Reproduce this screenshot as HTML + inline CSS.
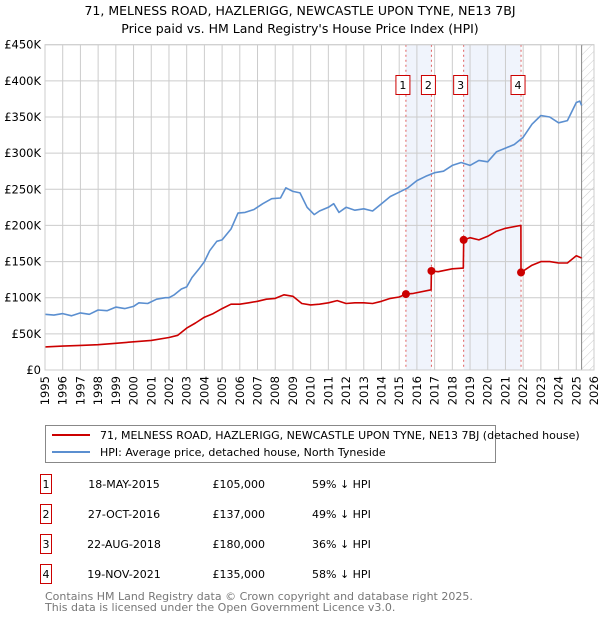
<!DOCTYPE html>
<html><head><meta charset="utf-8"><style>
body{margin:0;background:#fff;font-family:"Liberation Sans","DejaVu Sans",sans-serif;}
svg text{font-family:"DejaVu Sans","Liberation Sans",sans-serif;}
</style></head><body>
<svg id="c" width="600" height="620" xmlns="http://www.w3.org/2000/svg">
<defs><pattern id="hatch" width="6" height="6" patternUnits="userSpaceOnUse" patternTransform="rotate(45)"><line x1="0" y1="0" x2="0" y2="6" stroke="#ccc" stroke-width="1"/></pattern></defs>
<text x="300" y="15" text-anchor="middle" font-size="12.5">71, MELNESS ROAD, HAZLERIGG, NEWCASTLE UPON TYNE, NE13 7BJ</text>
<text x="300" y="33" text-anchor="middle" font-size="12.5">Price paid vs. HM Land Registry's House Price Index (HPI)</text>
<g id="plot"></g>
<g>
<rect x="45.5" y="425.5" width="450" height="37" fill="#fff" stroke="#888"/>
<line x1="52" y1="435" x2="90" y2="435" stroke="#cc0000" stroke-width="2"/>
<text x="100" y="439" font-size="11">71, MELNESS ROAD, HAZLERIGG, NEWCASTLE UPON TYNE, NE13 7BJ (detached house)</text>
<line x1="52" y1="452" x2="90" y2="452" stroke="#5b8fd0" stroke-width="2"/>
<text x="100" y="456" font-size="11">HPI: Average price, detached house, North Tyneside</text>
</g>
<g id="table" font-size="11"></g>
<text x="45" y="600" font-size="11" fill="#777">Contains HM Land Registry data © Crown copyright and database right 2025.</text>
<text x="45" y="611" font-size="11" fill="#777">This data is licensed under the Open Government Licence v3.0.</text>
</svg>
<script>
const yTicks=[0,50,100,150,200,250,300,350,400,450];
const yTickLabels=["£0","£50K","£100K","£150K","£200K","£250K","£300K","£350K","£400K","£450K"];
const hpiYears=[1995,1995.5,1996,1996.5,1997,1997.5,1998,1998.5,1999,1999.5,2000,2000.3,2000.8,2001.3,2001.8,2002,2002.3,2002.7,2003,2003.3,2003.7,2004,2004.3,2004.7,2005,2005.5,2005.9,2006.3,2006.8,2007.3,2007.8,2008.3,2008.6,2009,2009.4,2009.8,2010.2,2010.5,2011,2011.3,2011.6,2012,2012.5,2013,2013.5,2014,2014.5,2015,2015.5,2016,2016.5,2017,2017.5,2018,2018.5,2019,2019.5,2020,2020.5,2021,2021.5,2022,2022.5,2023,2023.5,2024,2024.5,2025,2025.2,2025.3];
const hpiValues=[77,76,78,75,79,77,83,82,87,85,88,93,92,98,100,100,104,112,115,128,140,150,165,178,180,195,217,218,222,230,237,238,252,247,245,225,215,220,225,230,218,225,221,223,220,230,240,246,252,262,268,273,275,283,287,283,290,288,302,307,312,322,340,352,350,342,345,370,372,366];
const ppYears=[1995,1996,1997,1998,1999,2000,2001,2002,2002.5,2003,2003.5,2004,2004.5,2005,2005.5,2006,2006.5,2007,2007.5,2008,2008.5,2009,2009.5,2010,2010.5,2011,2011.5,2012,2012.5,2013,2013.5,2014,2014.5,2015,2015.38,2015.8,2016.8,2016.82,2017.2,2018,2018.62,2018.64,2019,2019.5,2020,2020.5,2021,2021.87,2021.88,2022.5,2023,2023.5,2024,2024.5,2025,2025.3];
const ppValues=[32,33,34,35,37,39,41,45,48,58,65,73,78,85,91,91,93,95,98,99,104,102,92,90,91,93,96,92,93,93,92,95,99,101,105,106,111,137,136,140,141,180,183,180,185,192,196,200,135,145,150,150,148,148,158,155];
const saleLabels=["1","2","3","4"];
const saleYears=[2015.38,2016.82,2018.64,2021.88];
const saleValues=[105,137,180,135];
const saleDates=["18-MAY-2015","27-OCT-2016","22-AUG-2018","19-NOV-2021"];
const salePrices=["£105,000","£137,000","£180,000","£135,000"];
const saleHpi=["59% ↓ HPI","49% ↓ HPI","36% ↓ HPI","58% ↓ HPI"];

const X0=45,X1=594,Y0=370,Y1=44.7,YMIN=1995,YMAX=2026;
const xs=y=>X0+(y-YMIN)/(YMAX-YMIN)*(X1-X0);
const ys=v=>Y0-v/450*(Y0-Y1);
const NS="http://www.w3.org/2000/svg";
const plot=document.getElementById('plot');
function mk(tag,attrs,parent){const e=document.createElementNS(NS,tag);for(const k in attrs)e.setAttribute(k,attrs[k]);(parent||plot).appendChild(e);return e;}
for(let i=0;i<saleYears.length;i+=2){
 const r=mk('rect',{x:xs(saleYears[i]),y:Y1,width:xs(saleYears[i+1])-xs(saleYears[i]),height:Y0-Y1,fill:'#f0f4fc'});
 
 
}
const hz=mk('rect',{x:xs(2025.3),y:Y1,width:X1-xs(2025.3),height:Y0-Y1,fill:'url(#hatch)'});


for(let y=YMIN;y<=YMAX;y++){
 const l=mk('line',{x1:xs(y),x2:xs(y),y1:Y1,y2:Y0,stroke:'#ccc','stroke-width':1});
 
 
 const t=mk('text',{x:0,y:0,'font-size':11.5,'text-anchor':'end',transform:`translate(${xs(y)+4},${Y0+6}) rotate(-90)`});
 t.textContent=y;
 
 
}
yTicks.forEach((v,i)=>{
 const l=mk('line',{x1:X0,x2:X1,y1:ys(v),y2:ys(v),stroke:'#ccc','stroke-width':1});
 
 
 const t=mk('text',{x:X0-4,y:ys(v)+4,'font-size':11.5,'text-anchor':'end'});
 t.textContent=yTickLabels[i];
 
 
});
const nowL=mk('line',{x1:xs(2025.3),x2:xs(2025.3),y1:Y1,y2:Y0,stroke:'#888','stroke-width':1});


saleYears.forEach((y,i)=>{
 const l=mk('line',{x1:xs(y),x2:xs(y),y1:Y1,y2:Y0,stroke:'#e06060','stroke-width':1,'stroke-dasharray':'2,3'});
 
 
 const g=mk('g',{});
 
 
 mk('rect',{x:xs(y)-10,y:75.5,width:14,height:19,fill:'#fff',stroke:'#cc0000'},g);
 const t=mk('text',{x:xs(y)-3,y:89,'font-size':11,'text-anchor':'middle'},g);
 t.textContent=saleLabels[i];
});
function path(xa,va,color,name){
 const d=xa.map((y,i)=>(i?'L':'M')+xs(y).toFixed(1)+','+ys(va[i]).toFixed(1)).join('');
 const p=mk('path',{d:d,fill:'none',stroke:color,'stroke-width':1.6,'stroke-linejoin':'round'});
 
 
}
path(hpiYears,hpiValues,'#5b8fd0','hpi-line');
path(ppYears,ppValues,'#cc0000','price-paid-line');
saleYears.forEach((y,i)=>{
 const c=mk('circle',{cx:xs(y),cy:ys(saleValues[i]),r:4,fill:'#cc0000'});
 
 
});
mk('rect',{x:X0,y:Y1,width:X1-X0,height:Y0-Y1,fill:'none',stroke:'#ccc'});
const tb=document.getElementById('table');
saleLabels.forEach((s,i)=>{
 const yy=487+i*30;
 const g=mk('g',{},tb);
 
 
 mk('rect',{x:40.5,y:yy-12.5,width:11,height:19,fill:'#fff',stroke:'#cc0000'},g);
 const a=mk('text',{x:46,y:yy+1,'text-anchor':'middle'},g);a.textContent=s;
 const b=mk('text',{x:124,y:yy+1,'text-anchor':'middle'},g);b.textContent=saleDates[i];
 const c=mk('text',{x:265,y:yy+1,'text-anchor':'end'},g);c.textContent=salePrices[i];
 const d=mk('text',{x:312,y:yy+1},g);d.textContent=saleHpi[i];
});
</script>
</body></html>
